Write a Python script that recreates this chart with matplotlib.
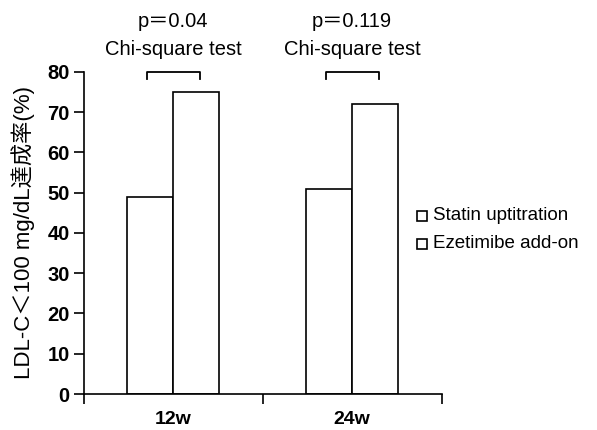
import matplotlib
matplotlib.use("Agg")
import matplotlib.pyplot as plt
from matplotlib.patches import Rectangle
import numpy as np

plt.rcParams['font.family'] = ['Liberation Sans', 'Noto Sans CJK JP', 'DejaVu Sans']

categories = ['12w', '24w']
series_names = ['Statin uptitration', 'Ezetimibe add-on']
statin = [49, 51]
ezetimibe = [75, 72]
p_texts = ['p＝0.04', 'p＝0.119']
test_text = 'Chi-square test'
ylabel = 'LDL-C＜100 mg/dL達成率(%)'
yticks = [0, 10, 20, 30, 40, 50, 60, 70, 80]

fig = plt.figure(figsize=(5.97, 4.30), dpi=100)
ax = fig.add_axes([0.140, 0.0837, 0.600, 0.749])

x = np.arange(len(categories))
w = 0.257
ax.bar(x - w/2, statin, width=w, color='white', edgecolor='black', linewidth=1.2)
ax.bar(x + w/2, ezetimibe, width=w, color='white', edgecolor='black', linewidth=1.2)

ax.set_xlim(-0.5, 1.5)
ax.set_ylim(0, 80)
ax.set_yticks(yticks)
ax.set_yticklabels([str(t) for t in yticks], fontsize=14.5, fontweight='bold')
ax.set_xticks([-0.5, 0.5, 1.5])
ax.set_xticklabels([])
for xi, c in zip(x, categories):
    ax.text(xi, -0.078, c, transform=ax.get_xaxis_transform(), ha='center', va='center',
            fontsize=14, fontweight='bold')
ax.tick_params(axis='both', direction='out', length=7, width=1.2, pad=3)
for s in ['top', 'right']:
    ax.spines[s].set_visible(False)
for s in ['left', 'bottom']:
    ax.spines[s].set_linewidth(1.2)

ax.set_ylabel(ylabel, fontsize=16, labelpad=9)

# brackets and annotations
for xi, pt in zip(x, p_texts):
    x0, x1 = xi - w/2 - 0.02, xi + w/2 + 0.02
    ax.plot([x0, x0, x1, x1], [78.3, 80, 80, 78.3], color='black', lw=1.3, clip_on=False)
    ax.text(xi, 85.6, test_text, ha='center', va='center', fontsize=14.5, clip_on=False)
    ax.text(xi, 92.6, pt, ha='center', va='center', fontsize=14.5, clip_on=False)

# legend
leg_y = [0.4977, 0.4326]
for yy, name in zip(leg_y, series_names):
    fig.patches.append(Rectangle((0.6985, yy - 0.0115), 0.0168, 0.023, transform=fig.transFigure,
                                 facecolor='white', edgecolor='black', lw=1.2))
    fig.text(0.725, yy, name, fontsize=13.5, va='center', ha='left')

fig.savefig('out.png', dpi=100)
